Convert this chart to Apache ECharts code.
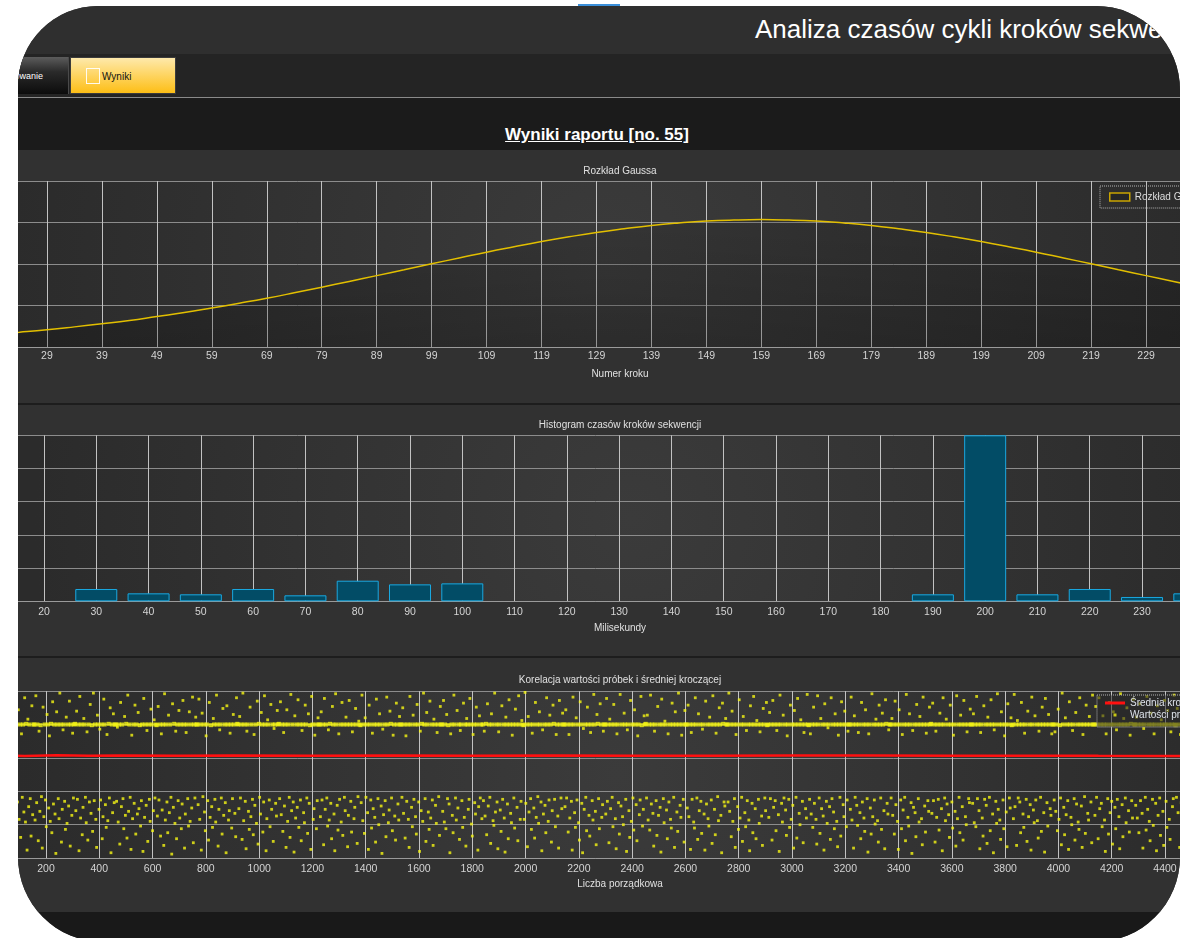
<!DOCTYPE html>
<html><head><meta charset="utf-8">
<script src="https://cdn.jsdelivr.net/npm/echarts@6/dist/echarts.min.js"></script>
<style>
html,body{margin:0;padding:0;width:1191px;height:938px;overflow:hidden;background:#fff;}
.abs{position:absolute;}
#win{position:absolute;left:18px;top:6px;width:1162px;height:936px;border-radius:80px 84px 85px 85px;overflow:hidden;background:#303030;}
#chart{position:absolute;left:-18px;top:-6px;width:1191px;height:938px;}
</style></head><body>
<div class="abs" style="left:578px;top:4px;width:42px;height:3px;background:#3b8fd9"></div>
<div id="win">
  <div class="abs" style="left:0;top:0;width:1162px;height:48px;background:#2f2f2f"></div>
  <div class="abs" style="left:737px;top:10px;font:26px/26px 'Liberation Sans',Arial,sans-serif;color:#fff;white-space:nowrap">Analiza czasów cykli kroków sekwencji</div>
  <div class="abs" style="left:0;top:48px;width:1162px;height:43px;background:#242424"></div>
  <div class="abs" style="left:-40px;top:51px;width:90px;height:37px;background:linear-gradient(#5c5c5c,#2a2a2a 40%,#0c0c0c);border-right:1px solid #4a4a4a"></div>
  <div class="abs" style="left:-95px;top:64px;width:120px;text-align:right;font:9px/12px 'Liberation Sans',Arial,sans-serif;color:#fff;white-space:nowrap">Programowanie</div>
  <div class="abs" style="left:52px;top:51px;width:104px;height:35px;border:1px solid #3c3c3c;background:linear-gradient(#fee9ab,#fed460 50%,#fdbe16)"></div>
  <div class="abs" style="left:68px;top:62px;width:12px;height:14px;border:1px solid rgba(255,255,255,0.9)"></div>
  <div class="abs" style="left:84px;top:65px;font:10px/12px 'Liberation Sans',Arial,sans-serif;color:#111;white-space:nowrap">Wyniki</div>
  <div class="abs" style="left:0;top:91px;width:1162px;height:1px;background:#8a8a8a"></div>
  <div class="abs" style="left:0;top:92px;width:1162px;height:52px;background:#1b1b1b"></div>
  <div class="abs" style="left:0;top:120px;width:1158px;text-align:center;font:bold 17px/17px 'Liberation Sans',Arial,sans-serif;color:#fff;text-decoration:underline;white-space:nowrap">Wyniki raportu [no. 55]</div>
  <div class="abs" style="left:0;top:144px;width:1162px;height:253px;background:#313131"></div>
  <div class="abs" style="left:0;top:397px;width:1162px;height:2px;background:#1d1d1d"></div>
  <div class="abs" style="left:0;top:399px;width:1162px;height:251px;background:#313131"></div>
  <div class="abs" style="left:0;top:650px;width:1162px;height:2px;background:#1d1d1d"></div>
  <div class="abs" style="left:0;top:652px;width:1162px;height:254px;background:#313131"></div>
  <div class="abs" style="left:0;top:906px;width:1162px;height:40px;background:#191919"></div>
  <div id="chart"></div>
</div>
<script>
// ---- Data ----
const gaussSteps = [19,24,29,34,39,44,49,54,59,64,69,74,79,84,89,94,99,104,109,114,119,124,129,134,139,144,149,154,159,164,169,174,179,184,189,194,199,204,209,214,219,224,229,234,239];
const gaussValues = [0.00060,0.00071,0.00083,0.00097,0.00112,0.00128,0.00147,0.00166,0.00188,0.00211,0.00235,0.00261,0.00288,0.00316,0.00344,0.00372,0.00401,0.00429,0.00457,0.00483,0.00508,0.00531,0.00552,0.00570,0.00586,0.00598,0.00607,0.00612,0.00614,0.00612,0.00607,0.00598,0.00586,0.00570,0.00552,0.00531,0.00508,0.00483,0.00457,0.00429,0.00401,0.00372,0.00344,0.00316,0.00288];

const histBins = [30,40,50,60,70,80,90,100,190,200,210,220,230,240];
const histCounts = [37,24,21,37,18,62,51,54,21,500,21,37,13,24];

const sampleStep = 3; // every 3rd ordinal sample shown
const samples = [
200,88,231,61,200,14,217,74,200,90,42,188,67,201,245,56,200,28,79,213,200,86,191,63,9,199,237,72,200,45,84,222,58,200,31,186,91,200,69,240,54,201,12,208,77,200,89,33,228,65,200,
200,57,243,83,200,26,190,70,199,92,15,226,62,200,87,47,215,200,75,183,55,201,38,234,81,200,66,7,219,200,89,59,247,200,24,73,192,200,85,43,211,52,200,78,235,18,200,64,187,90,200,
201,71,220,88,200,11,242,60,200,35,76,209,200,91,53,189,27,200,84,230,67,199,40,247,86,200,58,16,214,200,73,193,87,200,29,62,238,200,80,46,185,56,201,90,225,8,200,68,216,83,200,
200,85,196,54,200,21,233,77,200,89,44,212,64,201,30,244,70,200,91,13,184,59,200,82,229,36,200,66,218,74,199,48,86,200,10,239,61,200,79,191,25,200,88,55,223,200,41,71,207,90,200,
199,63,227,87,200,33,186,72,200,19,246,57,200,84,38,214,68,200,91,6,231,76,201,52,190,29,200,86,221,60,200,44,81,236,200,15,66,188,200,89,48,219,55,200,75,241,23,200,90,211,200,
200,80,238,58,200,12,217,92,200,69,41,183,200,86,27,233,61,199,77,46,209,200,88,54,244,200,18,73,192,200,90,36,224,64,200,83,8,228,200,57,71,187,200,45,89,215,200,67,32,240,201,
200,74,212,90,200,28,247,56,200,85,14,190,200,70,43,226,62,200,88,35,185,79,200,52,235,21,201,91,66,218,200,39,84,243,200,11,59,207,200,87,47,230,73,200,25,194,200,82,63,221,200,
201,89,234,65,200,40,188,78,200,16,222,55,200,91,31,245,71,200,84,9,213,60,200,76,237,46,200,87,26,191,200,68,53,229,200,90,37,216,82,199,13,242,200,58,74,184,200,44,86,210,200,
200,62,219,87,200,20,239,73,200,90,48,192,57,201,82,29,227,200,66,11,246,200,79,42,186,88,200,54,233,34,200,91,71,211,200,17,64,236,200,85,39,189,200,59,76,224,200,22,92,205,200,
199,83,244,56,200,37,210,91,200,68,13,229,200,87,45,187,74,200,61,24,238,200,89,50,216,200,78,7,193,65,200,86,32,241,200,53,72,220,201,90,41,184,200,63,27,232,200,81,57,212,200,
200,91,225,67,200,30,183,85,200,58,16,242,200,76,47,214,88,200,62,36,230,200,84,10,190,71,201,55,247,200,89,25,218,200,69,43,235,60,200,87,19,208,200,79,52,188,200,92,34,227,200,
200,70,236,54,200,44,215,89,199,81,8,186,200,64,38,244,200,90,57,221,75,200,28,191,200,86,46,232,61,200,18,209,200,73,88,239,200,51,33,185,200,83,66,226,200,12,77,213,90,200,59,
200,86,190,63,201,35,231,78,200,91,22,216,200,56,49,247,69,200,84,14,189,200,72,40,228,88,200,60,9,211,200,81,29,237,200,67,53,184,200,90,45,223,200,76,26,243,200,58,85,206,200,
199,58,248,82,200,17,212,69,200,89,43,187,200,75,30,233,61,200,92,52,219,200,84,11,192,66,200,79,38,240,200,55,87,214,200,24,71,229,201,88,47,185,200,63,15,236,200,90,74,217,200,
200,77,222,90,200,39,185,60,200,85,12,241,200,68,46,210,87,200,53,27,234,200,82,8,194,73,200,91,41,226,200,64,33,188,200,86,57,245,200,70,20,215,201,89,44,231,200,61,80,190,200,
200,66,239,85,200,23,208,74,200,91,47,230,200,59,14,186,200,83,36,245,78,200,62,50,217,200,88,10,192,200,71,31,236,55,200,90,42,222,200,80,26,183,200,65,87,242,199,48,73,213,200,
201,90,214,57,200,42,244,81,200,67,18,190,200,86,34,227,64,200,76,9,238,200,89,53,205,200,72,29,186,84,200,58,45,232,200,91,16,219,200,69,40,247,200,79,61,184,200,88,24,221,200,
200,75,229,62,200,13,188,88,200,54,45,240,200,90,28,216,71,200,85,37,193,200,66,12,235,81,200,59,48,211,200,87,22,243,200,73,35,187,200,92,56,225,200,64,8,232,201,84,78,209,200,
200,84,247,70,200,32,220,55,200,89,16,185,200,77,43,237,60,200,91,25,212,200,68,47,191,86,200,57,11,228,200,82,38,242,200,74,29,206,200,88,52,189,200,63,19,224,200,90,71,233,199,
200,61,218,89,200,27,236,76,200,86,41,191,200,65,10,244,200,82,54,214,90,200,72,34,183,200,88,46,229,58,200,79,15,221,200,91,30,239,200,67,50,207,200,85,23,188,200,74,60,245,200,
199,88,186,66,200,46,226,82,200,58,21,243,200,90,37,209,74,200,63,12,231,200,85,52,195,200,77,28,240,89,200,69,44,216,200,55,17,184,200,91,33,234,200,80,62,220,200,47,87,190,200,
200,73,241,57,200,15,213,91,200,79,49,188,200,68,29,233,84,200,60,40,222,200,89,9,186,200,75,36,246,62,200,87,51,208,200,56,24,229,200,90,43,217,200,71,14,237,201,82,66,192,200,
200,90,209,64,200,36,235,80,200,55,13,222,200,87,44,185,72,200,91,26,245,200,61,48,216,200,83,7,191,76,200,68,32,230,200,89,54,212,200,59,20,241,200,78,39,187,200,86,70,226,200,
201,67,232,86,200,24,190,61,200,88,42,217,200,74,11,240,200,90,56,208,81,200,65,31,229,200,84,45,184,200,70,18,243,59,200,91,38,214,200,77,27,236,200,62,50,189,200,89,83,223,200,
200,82,216,53,200,47,242,89,200,71,14,188,200,60,33,228,88,200,79,22,211,200,91,41,237,200,66,8,192,200,85,52,246,73,200,57,28,219,200,87,44,183,200,69,17,231,200,90,75,210,199,
200,59,245,77,200,19,206,90,200,84,38,233,200,66,46,187,200,88,25,220,62,200,80,12,241,200,72,53,213,87,200,56,30,190,200,91,40,226,200,68,9,239,200,83,48,215,200,74,64,186,200,
200,87,189,70,200,41,223,58,199,90,20,247,200,76,35,210,65,200,86,13,234,200,61,50,191,200,89,27,218,81,200,54,43,240,200,78,16,185,200,92,37,229,200,67,57,212,200,84,23,244,200,
200,64,227,91,200,29,240,74,200,82,47,213,200,57,10,186,200,89,36,233,68,200,85,21,219,200,76,44,192,88,200,62,14,246,200,80,32,209,200,90,53,225,200,71,39,184,201,86,60,238,200,
200,79,211,60,200,38,231,86,200,67,15,194,200,91,42,242,73,200,55,26,217,200,88,49,186,200,82,11,228,64,200,90,34,207,200,70,19,236,200,85,46,221,200,58,28,189,200,77,89,244,200,
199,91,224,68,200,16,185,83,200,74,43,238,200,60,31,215,89,200,86,8,191,200,78,52,245,200,65,37,212,90,200,57,22,229,200,84,45,187,200,71,12,241,200,88,55,218,200,63,80,233,200
];

const avgOrdinals = [3,120,240,360,480,700,900,1200,1500,1800,2100,2400,2700,3000,3300,3600,3900,4150,4400,4600];
const avgValues = [154.2,152.8,154.0,153.1,153.6,153.3,153.5,153.4,153.6,153.3,153.5,153.4,153.2,153.5,153.6,153.3,153.4,153.1,153.0,153.0];

// ---- Fonts ----
const probe = document.createElement('canvas').getContext('2d');
probe.font = "12px 'Liberation Sans Narrow', monospace";
const wN = probe.measureText('Korelacja wartości').width;
probe.font = "12px monospace";
const wM = probe.measureText('Korelacja wartości').width;
const hasNarrow = Math.abs(wN - wM) > 0.5;
const FONT = hasNarrow ? "'Liberation Sans Narrow','Liberation Sans',Arial,sans-serif" : "'Liberation Sans',Arial,sans-serif";
const TSIZE = hasNarrow ? 12 : 10;
const LSIZE = hasNarrow ? 12.5 : 10.5;

const LABEL = '#d4d4d4';
const VGRID = '#c2c2c2';
const HGRID = '#8c8c8c';
const AXIS = '#9a9a9a';
const plotBg = {type:'radial', x:0.51, y:0.5, r:3.6, colorStops:[{offset:0,color:'#3b3b3b'},{offset:1,color:'#2b2b2b'}]};
const plain = v => String(v);

function valueX(grid, min, max, interval, margin){
  return {type:'value', gridIndex:grid, min:min, max:max, interval:interval,
    axisLine:{show:true, onZero:false, lineStyle:{color:AXIS}}, axisTick:{show:false},
    axisLabel:{color:LABEL, fontSize:LSIZE, fontFamily:FONT, margin:margin, formatter:plain, hideOverlap:false},
    splitLine:{show:true, lineStyle:{color:VGRID, width:1}}};
}
function valueY(grid, min, max, interval){
  return {type:'value', gridIndex:grid, min:min, max:max, interval:interval,
    axisLine:{show:false}, axisTick:{show:false}, axisLabel:{show:false},
    splitLine:{show:true, lineStyle:{color:HGRID, width:1}}};
}
function label(text, x, y){
  return {type:'text', x:x, y:y, silent:true, z:10,
    style:{text:text, fill:'#e0e0e0', fontSize:TSIZE, fontFamily:FONT, align:'center', verticalAlign:'middle'}};
}
function grid(left, top, width, height){
  return {left:left, top:top, width:width, height:height, containLabel:false, outerBoundsMode:'none',
    show:true, backgroundColor:plotBg, borderWidth:0};
}

const chart = echarts.init(document.getElementById('chart'), null, {width:1191, height:938});
chart.setOption({
  animation:false,
  backgroundColor:'transparent',
  textStyle:{fontFamily:FONT},
  grid:[
    grid(-8, 181, 1209, 166),
    grid(-8.3, 435.3, 1254.9, 166),
    grid(-7.3, 691.1, 1225.6, 167)
  ],
  xAxis:[
    {type:'category', gridIndex:0, data:gaussSteps, boundaryGap:false,
      axisLine:{show:true, lineStyle:{color:AXIS}}, axisTick:{show:false},
      axisLabel:{interval:1, color:LABEL, fontSize:LSIZE, fontFamily:FONT, margin:4},
      splitLine:{show:true, interval:1, lineStyle:{color:VGRID, width:1}}},
    valueX(1, 10, 250, 10, 5),
    valueX(2, 0, 4600, 200, 6)
  ],
  yAxis:[
    valueY(0, 0, 0.008, 0.002),
    valueY(1, 0, 500, 100),
    valueY(2, 0, 250, 50)
  ],
  legend:[
    {data:[{name:'Rozkład Gaussa', icon:'rect', itemStyle:{color:'#262626', borderColor:'#c9a400', borderWidth:1.5}}],
      left:1100, top:186, orient:'vertical', padding:[6,60,6,9], itemWidth:20, itemHeight:8,
      borderColor:'#b4b4b4', borderWidth:1, borderType:'dotted', selectedMode:false,
      textStyle:{color:'#dcdcdc', fontSize:TSIZE, fontFamily:FONT}},
    {data:[{name:'Średnia krocząca', icon:'rect', itemStyle:{color:'#ff1010'}},
           {name:'Wartości próbek', icon:'path://M0,0L1,0L1,1L0,1Z', itemStyle:{color:'#eeee10'}}],
      left:1097, top:695, orient:'vertical', padding:[3,60,7,8], itemGap:2, itemWidth:20, itemHeight:3,
      backgroundColor:'rgba(40,40,40,0.55)', borderColor:'#b4b4b4', borderWidth:1, borderType:'dotted', selectedMode:false,
      textStyle:{color:'#dde2ea', fontSize:TSIZE, fontFamily:FONT}}
  ],
  series:[
    {name:'Rozkład Gaussa', type:'line', xAxisIndex:0, yAxisIndex:0, data:gaussValues,
      smooth:true, showSymbol:false, silent:true,
      lineStyle:{color:'#e2bf00', width:1.5},
      itemStyle:{color:'#e2bf00'},
      areaStyle:{color:{type:'linear', x:0, y:0, x2:0, y2:1, colorStops:[{offset:0,color:'rgba(0,0,0,0.14)'},{offset:1,color:'rgba(0,0,0,0.34)'}]}}},
    {name:'Histogram', type:'bar', xAxisIndex:1, yAxisIndex:1,
      data:histBins.map((b,i)=>[b, histCounts[i]]), barWidth:42, silent:true,
      itemStyle:{color:'#024c66', borderColor:'#1aa8e0', borderWidth:1}},
    {name:'Wartości próbek', type:'scatter', xAxisIndex:2, yAxisIndex:2,
      data:samples.map((v,i)=>[(i+1)*sampleStep, v]), symbol:'rect',
      symbolSize:(v)=> (Math.abs(v[1]-200) <= 2 ? [4, 4] : [2.8, 2.8]), silent:true,
      itemStyle:{color:'#f6f614'}},
    {name:'Średnia krocząca', type:'line', xAxisIndex:2, yAxisIndex:2,
      data:avgOrdinals.map((o,i)=>[o, avgValues[i]]), showSymbol:false, silent:true,
      lineStyle:{color:'#ff1010', width:2.5}, itemStyle:{color:'#ff1010'}}
  ],
  graphic:[
    label('Rozkład Gaussa', 620, 171),
    label('Numer kroku', 620, 374),
    label('Histogram czasów kroków sekwencji', 620, 425),
    label('Milisekundy', 620, 628),
    label('Korelacja wartości próbek i średniej kroczącej', 620, 680),
    label('Liczba porządkowa', 620, 884)
  ]
});
</script>
</body></html>
